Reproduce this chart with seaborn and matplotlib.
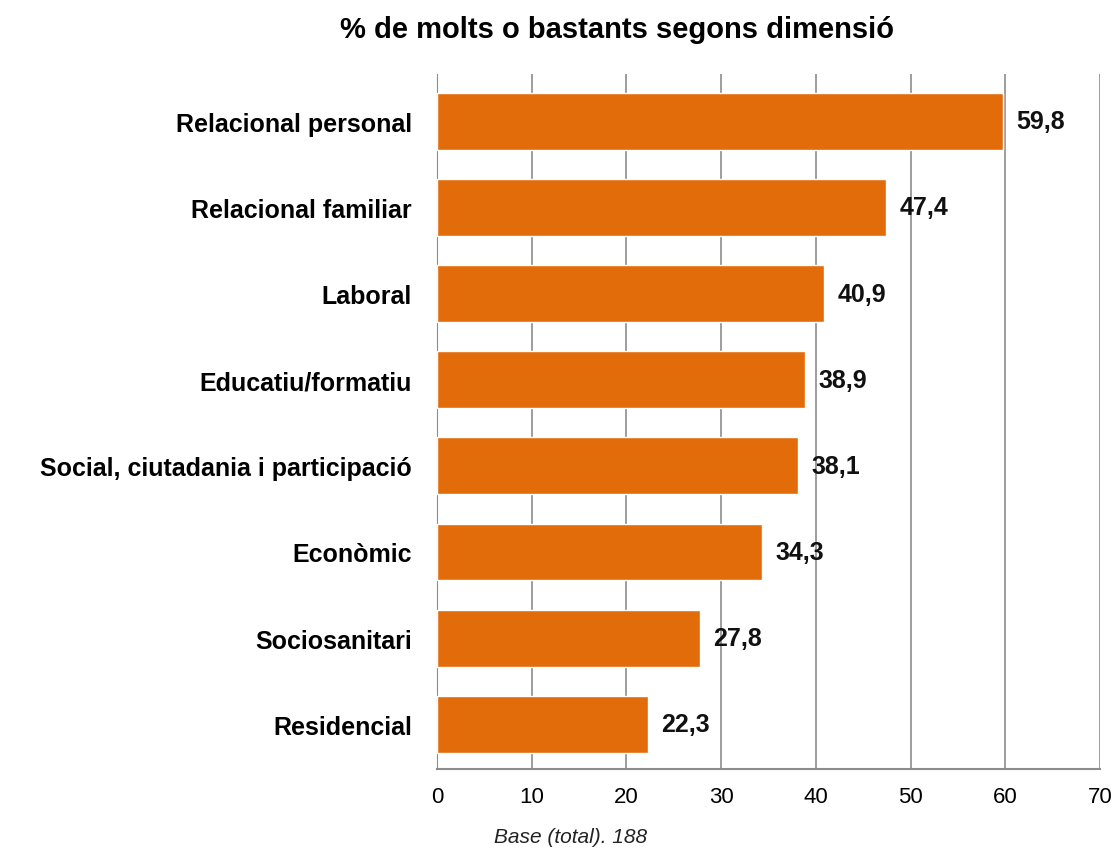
import matplotlib
matplotlib.use('Agg')
import matplotlib.pyplot as plt
import seaborn as sns
import pandas as pd

# Data
categories = ['Relacional personal', 'Relacional familiar', 'Laboral', 'Educatiu/formatiu',
              'Social, ciutadania i participació', 'Econòmic', 'Sociosanitari', 'Residencial']
values = [59.8, 47.4, 40.9, 38.9, 38.1, 34.3, 27.8, 22.3]
x_ticks = [0, 10, 20, 30, 40, 50, 60, 70]

df = pd.DataFrame({'Dimensio': categories, 'Valor': values})

sns.set_style('white')
plt.rcParams['font.family'] = ['Liberation Sans', 'DejaVu Sans']
plt.rcParams['text.color'] = 'black'
plt.rcParams['xtick.color'] = 'black'
plt.rcParams['ytick.color'] = 'black'

fig = plt.figure(figsize=(11.13, 8.53), dpi=100)
ax = fig.add_axes([0.3926, 0.0973, 0.5957, 0.8148])

sns.barplot(data=df, x='Valor', y='Dimensio', color='#E36C0A', saturation=1,
            width=0.66, ax=ax, zorder=3)

# value labels, comma as decimal separator
for i, v in enumerate(values):
    ax.text(v + 1.4, i, f"{v:.1f}".replace('.', ','), va='center', ha='left',
            fontsize=18, fontweight='bold', color='#111111')

ax.set_xlim(0, 70)
ax.set_ylim(7.52, -0.55)
ax.set_xticks(x_ticks)
ax.set_xticklabels([str(t) for t in x_ticks], fontsize=16)
ax.tick_params(axis='x', length=0, pad=12)
ax.tick_params(axis='y', length=0, pad=18)
for lbl in ax.get_yticklabels():
    lbl.set_fontweight('bold')
    lbl.set_fontsize(18)
ax.xaxis.grid(True, color='#8c8c8c', linewidth=1.2, zorder=0)
ax.set_xlabel('')
ax.set_ylabel('')
for s in ['top', 'right']:
    ax.spines[s].set_visible(False)
ax.spines['left'].set_color('#8c8c8c')
ax.spines['bottom'].set_color('#8c8c8c')
ax.spines['bottom'].set_linewidth(1.5)

fig.text(0.554, 0.965, '% de molts o bastants segons dimensió', ha='center', va='center',
         fontsize=21, fontweight='bold')
fig.text(0.513, 0.018, 'Base (total). 188', ha='center', va='center',
         fontsize=15, style='italic', color='#222222')

plt.savefig('out.png', dpi=100)
